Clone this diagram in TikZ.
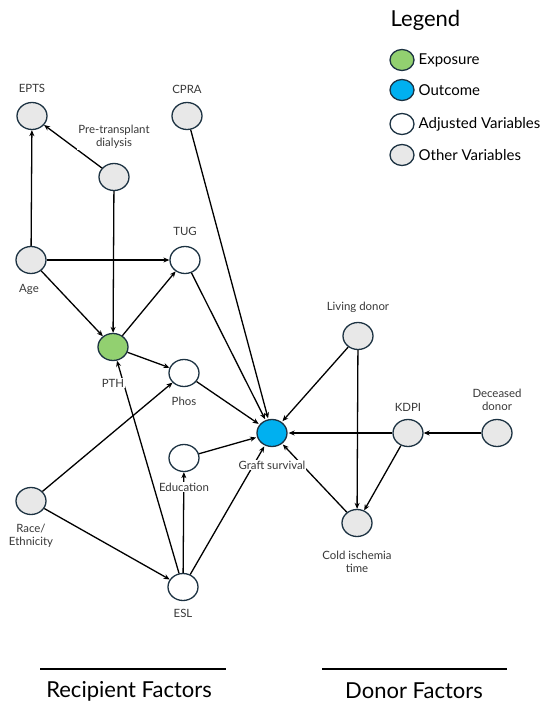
\documentclass[tikz,border=0pt]{standalone}
\usepackage{fontspec}
\setmainfont{Lato}
\usetikzlibrary{shapes.geometric, arrows.meta}
\definecolor{nodeedge}{RGB}{28,50,66}
\definecolor{expgreen}{RGB}{146,208,112}
\definecolor{outblue}{RGB}{0,176,240}
\definecolor{othergray}{RGB}{232,232,232}
\tikzset{>={Stealth[length=6pt, width=5pt]}}
\tikzset{var/.style = {ellipse, draw = nodeedge, line width = 1.3pt, minimum width = 30pt, minimum height = 27pt, inner sep = 0pt},
	other/.style = {var, fill = othergray},
	adj/.style = {var, fill = white},
	lbl/.style = {fill = white, inner sep = 1pt, align = center, text = black!78, font = \fontsize{11.4}{13}\selectfont}}

\begin{document}
\begin{tikzpicture}[x = 1pt, y = -1pt, line width = 1.3pt]
	\useasboundingbox (0,0) rectangle (550,717);
	% recipient variables
	\node[other] (epts) at (32,116) {};
	\node[other] (cpra) at (187,116) {};
	\node[other] (dial) at (114,177) {};
	\node[other] (age) at (31,260) {};
	\node[adj] (tug) at (185,260) {};
	\node[var, fill = expgreen] (pth) at (113,347) {};
	\node[adj] (phos) at (184,373) {};
	\node[adj] (edu) at (184,458) {};
	\node[var, fill = outblue] (graft) at (272,433) {};
	\node[other] (race) at (31,501) {};
	\node[adj] (esl) at (183,587) {};
	% donor variables
	\node[other] (living) at (358,336) {};
	\node[other] (kdpi) at (408,433) {};
	\node[other] (deceased) at (497,433) {};
	\node[other] (cold) at (357,523) {};
	% arrows
	\draw[->] (age) -- (epts);
	\draw[->] (dial) -- (epts);
	\draw[->] (dial) -- (pth);
	\draw[->] (age) -- (tug);
	\draw[->] (age) -- (pth);
	\draw[->] (pth) -- (tug);
	\draw[->] (pth) -- (phos);
	\draw[->] (race) -- (phos);
	\draw[->] (race) -- (esl);
	\draw[->] (esl) -- (pth);
	\draw[->] (esl) -- (edu);
	\draw[->, shorten > = 1pt] (cpra) -- (graft);
	\draw[->, shorten > = 1pt] (tug) -- (graft);
	\draw[->, shorten > = 1pt] (phos) -- (graft);
	\draw[->, shorten > = 1pt] (edu) -- (graft);
	\draw[->, shorten > = 1pt] (esl) -- (graft);
	\draw[->, shorten > = 1pt] (living) -- (graft);
	\draw[->, shorten > = 1pt] (kdpi) -- (graft);
	\draw[->, shorten > = 1pt] (cold) -- (graft);
	\draw[->] (living) -- (cold);
	\draw[->] (deceased) -- (kdpi);
	\draw[->] (kdpi) -- (cold);
	% labels
	\node[lbl] (eptsl) at (32,88) {EPTS};
	\node[lbl] (cpral) at (187,89) {CPRA};
	\node[lbl] (diall) at (114,137) {Pre-transplant\\dialysis};
	\node[lbl] (tugl) at (185,231) {TUG};
	\node[lbl] (agel) at (29,289) {Age};
	\node[lbl] (pthl) at (113,383) {PTH};
	\node[lbl] (phosl) at (184,401) {Phos};
	\node[lbl] (edul) at (184,487) {Education};
	\node[lbl] (graftl) at (272,465) {Graft survival};
	\node[lbl] (racel) at (31,536) {Race/\\Ethnicity};
	\node[lbl] (esll) at (183,613) {ESL};
	\node[lbl] (livingl) at (358,307) {Living donor};
	\node[lbl] (kdpil) at (408,407) {KDPI};
	\node[lbl] (deceasedl) at (497,400) {Deceased\\donor};
	\node[lbl] (coldl) at (357,562) {Cold ischemia\\time};
	% legend
	\node[anchor = base west, inner sep = 0pt, font = \fontsize{22}{26}\selectfont] (legend) at (390,27) {Legend};
	\foreach \fc/\txt/\yy [count = \i] in {expgreen/Exposure/60, outblue/Outcome/90, white/Adjusted Variables/124, othergray/Other Variables/155}
	{
		\node[var, fill = \fc, minimum width = 24pt, minimum height = 21pt] (key\i) at (402,\yy) {};
		\node[anchor = west, inner sep = 0pt, font = \fontsize{15}{17}\selectfont] (keyl\i) at (418,\yy) {\txt};
	}
	% groups
	\draw[line width = 2.3pt] (40,669) -- (226,669);
	\node[font = \fontsize{22}{26}\selectfont] (recip) at (129,691) {Recipient Factors};
	\draw[line width = 2.3pt] (322,669) -- (507,669);
	\node[font = \fontsize{22}{26}\selectfont] (donor) at (414,691) {Donor Factors};
\end{tikzpicture}
\end{document}
